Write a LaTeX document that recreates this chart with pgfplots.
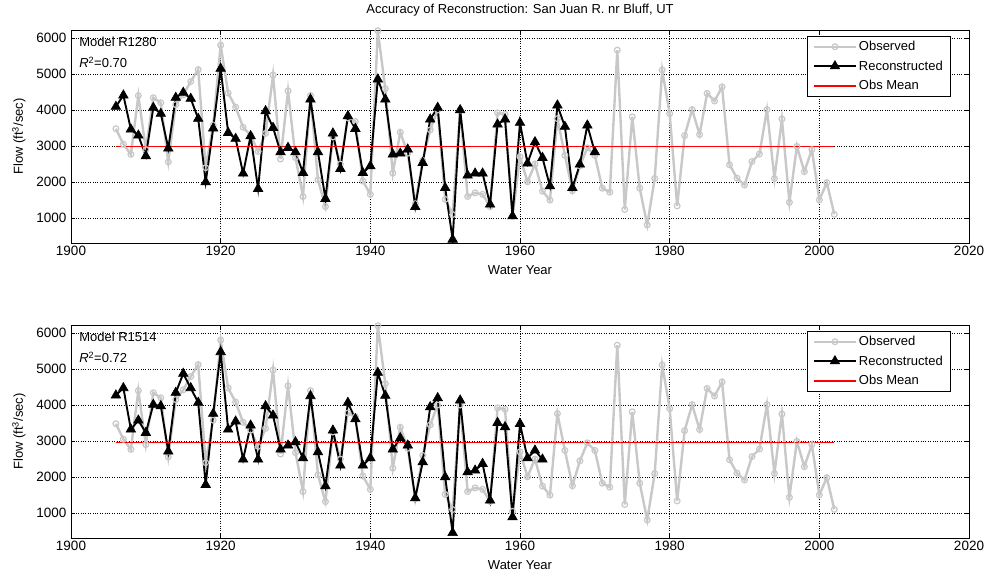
\documentclass[border=0pt]{standalone}
\usepackage{pgfplots}
\usepackage{pgfplotstable}
\pgfplotsset{compat=1.18}
\usepackage{fontspec}
\setmainfont{Liberation Sans}

\pgfplotstableread{
year obs
1906 3480
1907 3050
1908 2770
1909 4400
1910 2900
1911 4340
1912 4200
1913 2560
1914 4150
1915 4420
1916 4790
1917 5120
1918 2400
1919 3580
1920 5800
1921 4470
1922 4080
1923 3520
1924 3300
1925 2850
1926 3350
1927 4970
1928 2640
1929 4530
1930 2680
1931 1600
1932 4400
1933 2060
1934 1320
1935 3250
1936 2500
1937 3780
1938 3680
1939 2030
1940 1660
1941 6200
1942 4590
1943 2250
1944 3380
1945 2800
1946 1400
1947 2600
1948 3450
1949 4000
1950 1520
1951 1100
1952 4000
1953 1600
1954 1700
1955 1660
1956 1320
1957 3920
1958 3880
1959 1050
1960 2700
1961 2010
1962 2500
1963 1750
1964 1500
1965 3760
1966 2740
1967 1760
1968 2450
1969 2950
1970 2740
1971 1830
1972 1720
1973 5660
1974 1240
1975 3810
1976 1830
1977 810
1978 2100
1979 5110
1980 3900
1981 1340
1982 3290
1983 4010
1984 3320
1985 4460
1986 4250
1987 4640
1988 2480
1989 2110
1990 1920
1991 2570
1992 2780
1993 4010
1994 2100
1995 3750
1996 1440
1997 2990
1998 2290
1999 2900
2000 1505
2001 1985
2002 1105
}\obsdata

\pgfplotstableread{
year rec
1906 4093
1907 4407
1908 3463
1909 3296
1910 2722
1911 4065
1912 3898
1913 2935
1914 4343
1915 4482
1916 4315
1917 3759
1918 2000
1919 3490
1920 5148
1921 3370
1922 3204
1923 2241
1924 3278
1925 1815
1926 3972
1927 3509
1928 2833
1929 2954
1930 2833
1931 2259
1932 4296
1933 2833
1934 1537
1935 3352
1936 2370
1937 3833
1938 3481
1939 2259
1940 2444
1941 4852
1942 4296
1943 2768
1944 2796
1945 2907
1946 1315
1947 2537
1948 3741
1949 4065
1950 1842
1951 407
1952 4000
1953 2185
1954 2241
1955 2241
1956 1380
1957 3602
1958 3741
1959 1055
1960 3648
1961 2518
1962 3111
1963 2676
1964 1889
1965 4130
1966 3537
1967 1842
1968 2491
1969 3574
1970 2833
}\recA

\pgfplotstableread{
year rec
1906 4269
1907 4472
1908 3324
1909 3574
1910 3231
1911 4009
1912 3972
1913 2713
1914 4343
1915 4870
1916 4472
1917 4065
1918 1787
1919 3759
1920 5472
1921 3324
1922 3546
1923 2491
1924 3435
1925 2491
1926 3972
1927 3713
1928 2768
1929 2880
1930 2972
1931 2528
1932 4250
1933 2694
1934 1750
1935 3296
1936 2324
1937 4065
1938 3610
1939 2324
1940 2528
1941 4898
1942 4260
1943 2768
1944 3083
1945 2880
1946 1417
1947 2417
1948 3944
1949 4194
1950 2000
1951 454
1952 4130
1953 2139
1954 2185
1955 2370
1956 1352
1957 3509
1958 3389
1959 889
1960 3481
1961 2528
1962 2741
1963 2491
}\recB

\definecolor{obsgray}{RGB}{200,200,200}

\pgfplotsset{
  myaxis/.style={
    scale only axis, width=898pt, height=213pt,
    xmin=1900, xmax=2020, ymin=310, ymax=6220,
    xtick={1900,1920,...,2020}, ytick={1000,2000,...,6000},
    grid=major, major grid style={black, dotted, line width=0.5pt},
    tick align=inside, major tick length=4pt,
    tick style={black, line width=0.5pt},
    axis line style={black, line width=0.6pt},
    /pgf/number format/assume math mode=true,
    /pgf/number format/set thousands separator={},
    ticklabel style={font=\fontsize{13.5}{15}\selectfont},
    yticklabel style={xshift=-1pt},
    label style={font=\fontsize{13}{15}\selectfont},
    xlabel={Water Year}, ylabel={Flow (ft\textsuperscript{3}/sec)},
    xlabel style={yshift=-3pt},
    ylabel style={yshift=4pt},
    legend style={at={(0.98,0.972)}, anchor=north east, draw=black, line width=0.6pt,
      font=\fontsize{13}{15}\selectfont, inner xsep=6pt, inner ysep=3pt, row sep=4.5pt},
    legend cell align=left,
    legend image code/.code={\draw[mark repeat=2,mark phase=2] plot coordinates {(0cm,0cm) (0.73cm,0cm) (1.46cm,0cm)};},
  },
  obsstyle/.style={color=obsgray, line width=2.4pt, mark=o, mark size=2.9pt, mark options={line width=1.2pt, fill=white, solid}},
  recstyle/.style={color=black, line width=1.9pt, mark=triangle*, mark size=5.5pt, mark options={line width=0.6pt, solid}},
  meanstyle/.style={color=red, line width=0.9pt, no marks,
    legend image code/.code={\fill[red] (0cm,-0.55pt) rectangle (1.46cm,0.55pt);}},
}

\begin{document}
\begin{tikzpicture}
\path[use as bounding box] (0,0) rectangle (987pt,576pt);
\begin{axis}[myaxis, at={(71pt,333pt)}, anchor=south west]
  \addplot[obsstyle] table[x=year,y=obs] {\obsdata};
  \addlegendentry{Observed}
  \addplot[recstyle] table[x=year,y=rec] {\recA};
  \addlegendentry{Reconstructed}
  \addplot[meanstyle] coordinates {(1906,2975) (2002,2975)};
  \addlegendentry{Obs Mean}
  \node[anchor=north west, inner sep=0pt, font=\fontsize{13}{15}\selectfont] at (rel axis cs:0.009,0.97) {Model R1280};
  \node[anchor=north west, inner sep=0pt, font=\fontsize{13}{15}\selectfont] at (rel axis cs:0.009,0.875) {\textit{R}\textsuperscript{2}=0.70};
\end{axis}
\begin{axis}[myaxis, at={(71pt,38pt)}, anchor=south west]
  \addplot[obsstyle] table[x=year,y=obs] {\obsdata};
  \addlegendentry{Observed}
  \addplot[recstyle] table[x=year,y=rec] {\recB};
  \addlegendentry{Reconstructed}
  \addplot[meanstyle] coordinates {(1906,2975) (2002,2975)};
  \addlegendentry{Obs Mean}
  \node[anchor=north west, inner sep=0pt, font=\fontsize{13}{15}\selectfont] at (rel axis cs:0.009,0.97) {Model R1514};
  \node[anchor=north west, inner sep=0pt, font=\fontsize{13}{15}\selectfont] at (rel axis cs:0.009,0.875) {\textit{R}\textsuperscript{2}=0.72};
\end{axis}
\node[anchor=base, font=\fontsize{13}{15}\selectfont] at (520pt,562pt) {Accuracy of Reconstruction: San Juan R. nr Bluff, UT};
\end{tikzpicture}
\end{document}
